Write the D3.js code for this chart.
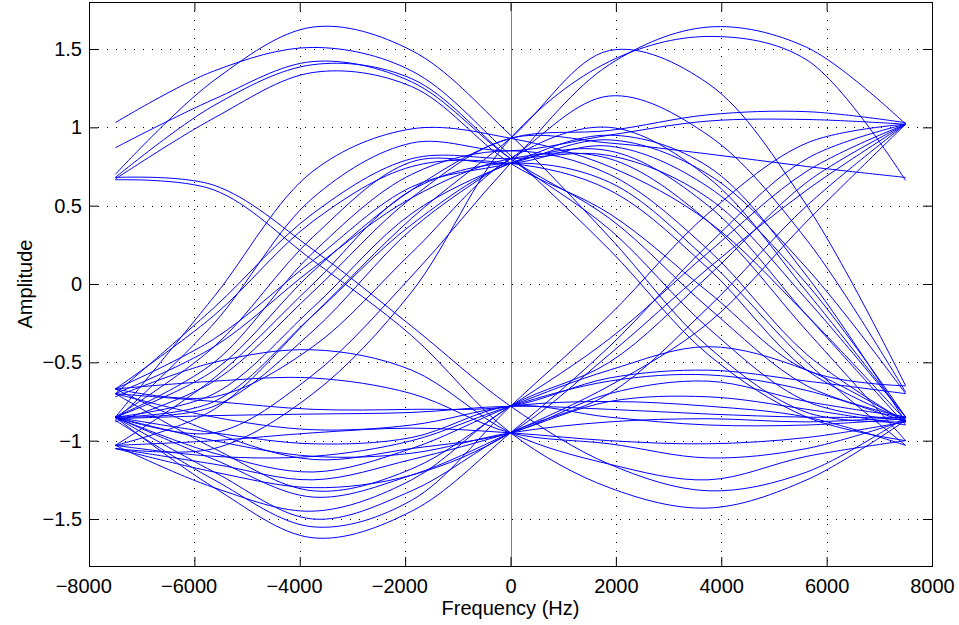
<!DOCTYPE html>
<html>
<head>
<meta charset="utf-8">
<script src="https://cdn.jsdelivr.net/npm/d3@7"></script>
<style>
  html, body { margin: 0; padding: 0; background: #fff; }
  svg { display: block; }
  text { font-family: "Liberation Sans", Arial, Helvetica, sans-serif; }
</style>
</head>
<body>
<svg id="chart" width="959" height="625"></svg>
<script>
// ---- data ----
const freqs = [-7500, -5625, -3750, -1875, 0, 1875, 3750, 5625, 7500];

const upperTraces = [
  [0.70, 1.30, 1.64, 1.49, 0.95, 0.30, -0.40, -0.82, -0.88],
  [1.03, 1.36, 1.51, 1.36, 0.82, 0.22, -0.45, -0.85, -1.00],
  [0.87, 1.18, 1.42, 1.29, 0.80, 0.42, -0.15, -0.65, -0.85],
  [0.68, 1.14, 1.40, 1.31, 0.80, 0.35, -0.28, -0.75, -0.87],
  [0.67, 1.06, 1.35, 1.26, 0.77, 0.45, -0.05, -0.55, -0.65],
  [-0.85, -0.08, 0.72, 0.99, 0.93, 0.75, 0.40, -0.20, -0.87],
  [-0.87, -0.25, 0.55, 0.90, 0.85, 0.95, 1.04, 1.05, 1.02],
  [-0.70, -0.15, 0.45, 0.80, 0.80, 0.82, 0.55, -0.10, -0.85],
  [-0.85, -0.40, 0.30, 0.78, 0.77, 0.88, 0.62, 0.00, -0.85],
  [-0.67, -0.35, 0.15, 0.62, 0.77, 0.92, 0.70, 0.10, -0.70],
  [-0.85, -0.55, 0.08, 0.60, 0.93, 0.98, 1.08, 1.10, 1.03],
  [-0.88, -0.62, -0.05, 0.55, 0.93, 0.90, 0.83, 0.75, 0.68],
  [-0.85, -0.70, -0.15, 0.45, 0.77, 0.95, 0.75, 0.05, -0.88],
  [-1.03, -0.80, -0.20, 0.42, 0.93, 1.49, 1.28, 0.50, -0.65],
  [-0.85, -0.78, -0.30, 0.35, 0.80, 1.20, 0.95, 0.28, -0.69],
  [-0.67, -0.72, -0.40, 0.20, 0.80, 1.00, 0.68, -0.05, -0.85],
  [-0.85, -0.95, -0.58, 0.05, 0.77, 1.40, 1.64, 1.51, 1.02],
  [-1.05, -1.05, -0.70, -0.05, 0.93, 1.42, 1.58, 1.43, 0.66],
  [-0.85, -0.75, -0.20, 0.38, 0.77, 0.85, 0.50, -0.20, -0.90],
  [-0.70, -0.40, 0.10, 0.55, 0.80, 0.80, 0.40, -0.30, -1.00],
  [-0.85, -0.50, 0.20, 0.70, 0.85, 0.70, 0.22, -0.45, -0.88],
  [-1.03, -0.60, 0.00, 0.60, 0.77, 0.65, 0.15, -0.50, -1.03],
  [-0.67, -0.20, 0.40, 0.75, 0.77, 0.60, 0.10, -0.55, -0.87]
];

const lowerTraces = [
  [-0.85, -1.30, -1.62, -1.45, -0.95, -0.40, 0.25, 0.80, 1.02],
  [-0.87, -1.25, -1.55, -1.38, -0.78, -0.20, 0.45, 0.90, 1.02],
  [-0.85, -1.20, -1.50, -1.32, -0.95, -0.70, -0.15, 0.50, 1.02],
  [-1.03, -1.30, -1.45, -1.25, -0.78, -0.50, 0.05, 0.65, 1.02],
  [-0.85, -1.12, -1.36, -1.22, -0.95, -0.65, -0.25, 0.40, 1.02],
  [-0.70, -1.05, -1.32, -1.18, -0.78, -0.35, 0.20, 0.72, 1.02],
  [-1.05, -1.15, -1.25, -1.12, -0.95, -0.75, -0.72, -0.80, -0.90],
  [-0.85, -1.08, -1.20, -1.05, -0.78, -0.55, -0.40, -0.55, -0.88],
  [-0.67, -0.95, -1.12, -1.05, -0.95, -0.70, -0.62, -0.75, -0.85],
  [-1.03, -1.10, -1.10, -1.00, -0.78, -0.62, -0.58, -0.68, -0.88],
  [-0.86, -0.84, -0.83, -0.82, -0.78, -0.80, -0.83, -0.85, -0.85],
  [-1.03, -1.00, -0.95, -0.92, -0.95, -1.00, -1.02, -0.98, -0.88],
  [-0.72, -0.50, -0.42, -0.55, -0.95, -1.15, -1.25, -1.10, -1.00],
  [-0.67, -0.62, -0.60, -0.70, -0.95, -1.02, -1.11, -1.05, -0.87],
  [-0.85, -0.95, -1.02, -0.98, -0.78, -0.85, -0.90, -0.90, -0.86],
  [-0.70, -0.85, -0.93, -0.90, -0.78, -0.75, -0.78, -0.85, -1.03],
  [0.665, 0.60, 0.15, -0.33, -0.95, -1.30, -1.43, -1.25, -0.87],
  [0.68, 0.63, 0.22, -0.27, -0.78, -1.15, -1.32, -1.20, -0.85],
  [-0.85, -1.00, -1.10, -1.08, -0.95, -0.88, -0.86, -0.88, -0.85],
  [-0.70, -0.75, -0.80, -0.80, -0.78, -0.60, -0.55, -0.62, -0.70],
  [-1.05, -1.20, -1.30, -1.22, -0.95, -0.45, 0.10, 0.60, 1.02]
];

const xTicks = [-8000, -6000, -4000, -2000, 0, 2000, 4000, 6000, 8000];
const yTicks = [-1.5, -1, -0.5, 0, 0.5, 1, 1.5];
const xLabel = "Frequency (Hz)";
const yLabel = "Amplitude";

// ---- layout ----
const svg = d3.select("#chart");
const L = 89, R = 932, T = 2, B = 566;
const x = d3.scaleLinear().domain([-8000, 8000]).range([L, R]);
const y = d3.scaleLinear().domain([-1.8, 1.8]).range([B, T]);
const fmt = v => (v < 0 ? "\u2212" : "") + Math.abs(v);
const fontSize = 20;
const fontFamily = '"Liberation Sans", Arial, sans-serif';

// grid
const grid = svg.append("g").attr("stroke", "#000").attr("stroke-width", 1)
  .attr("stroke-dasharray", "1,8");
xTicks.filter(t => t > -8000 && t < 8000).forEach(t => {
  grid.append("line").attr("x1", Math.round(x(t)) + 0.5).attr("x2", Math.round(x(t)) + 0.5)
    .attr("y1", T).attr("y2", B);
});
yTicks.forEach(t => {
  grid.append("line").attr("y1", Math.round(y(t)) + 0.5).attr("y2", Math.round(y(t)) + 0.5)
    .attr("x1", L).attr("x2", R);
});

// clip
svg.append("clipPath").attr("id", "clip").append("rect")
  .attr("x", L).attr("y", T).attr("width", R - L).attr("height", B - T);

// zero line
svg.append("line").attr("x1", Math.round(x(0)) + 0.5).attr("x2", Math.round(x(0)) + 0.5)
  .attr("y1", T).attr("y2", B).attr("stroke", "#808080").attr("stroke-width", 1);

// traces
const line = d3.line()
  .x((d, i) => x(freqs[i]))
  .y(d => y(d))
  .curve(d3.curveCatmullRom.alpha(0.5));
svg.append("g").attr("clip-path", "url(#clip)")
  .selectAll("path").data(upperTraces.concat(lowerTraces)).join("path")
  .attr("d", line).attr("fill", "none").attr("stroke", "#0000ff").attr("stroke-width", 1);

// axes
const ax = d3.axisBottom(x).tickValues(xTicks).tickSize(-9).tickPadding(13).tickFormat(fmt);
const gx = svg.append("g").attr("transform", `translate(0,${B})`).call(ax);
const ay = d3.axisLeft(y).tickValues(yTicks).tickSize(-9).tickPadding(7).tickFormat(fmt);
const gy = svg.append("g").attr("transform", `translate(${L},0)`).call(ay);
const gt = svg.append("g").attr("transform", `translate(0,${T})`)
  .call(d3.axisTop(x).tickValues(xTicks).tickSize(-9).tickFormat(""));
const gr = svg.append("g").attr("transform", `translate(${R},0)`)
  .call(d3.axisRight(y).tickValues(yTicks).tickSize(-9).tickFormat(""));
[gx, gy, gt, gr].forEach(g => {
  g.select(".domain").remove();
  g.selectAll("line").attr("stroke", "#000");
  g.selectAll("text").attr("fill", "#000").style("font-size", fontSize + "px")
    .style("font-family", fontFamily);
});
// digits centred on the tick, minus sign hanging to the left
gx.selectAll(".tick text").filter(d => d < 0).attr("dx", "-0.29em");

// box
svg.append("rect").attr("x", L + 0.5).attr("y", T + 0.5).attr("width", R - L).attr("height", B - T)
  .attr("fill", "none").attr("stroke", "#000").attr("stroke-width", 1);

// labels
svg.append("text").attr("x", x(0)).attr("y", 615).attr("text-anchor", "middle")
  .style("font-size", fontSize + "px").style("font-family", fontFamily).text(xLabel);
svg.append("text").attr("transform", `translate(32,${(T + B) / 2}) rotate(-90)`)
  .attr("text-anchor", "middle").style("font-size", fontSize + "px")
  .style("font-family", fontFamily).text(yLabel);
</script>
</body>
</html>
